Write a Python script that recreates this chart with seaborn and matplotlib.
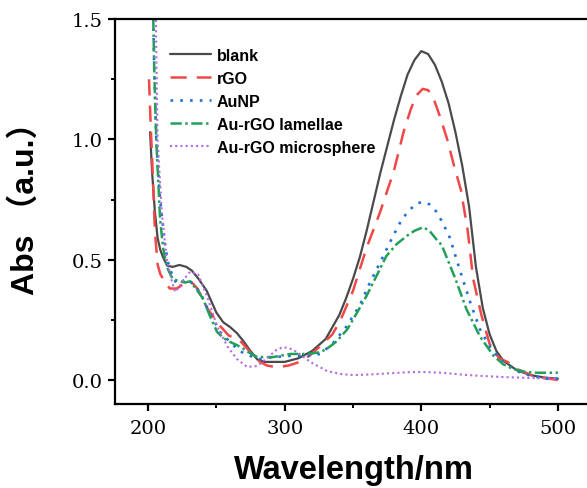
import matplotlib; matplotlib.use("Agg")
import matplotlib.pyplot as plt
import seaborn as sns

# ── data ────────────────────────────────────────────────────────────────────
blank_wl = [201.5, 203, 205, 207, 209, 211, 214, 218, 223, 228, 232, 237, 243, 250, 255, 260, 265, 270,
            275, 280, 285, 290, 300, 310, 320, 330, 340, 345, 350, 355, 360, 365, 370, 375, 380, 385,
            390, 395, 400, 405, 410, 415, 420, 425, 430, 435, 440, 445, 450, 455, 460, 470, 480, 490, 500]
blank_abs = [1.03, 0.86, 0.70, 0.59, 0.54, 0.51, 0.475, 0.47, 0.478, 0.47, 0.455, 0.42, 0.37, 0.28, 0.24,
             0.22, 0.195, 0.16, 0.12, 0.085, 0.075, 0.075, 0.075, 0.09, 0.12, 0.17, 0.27, 0.34, 0.42, 0.51,
             0.62, 0.74, 0.86, 0.97, 1.08, 1.18, 1.27, 1.33, 1.367, 1.355, 1.31, 1.24, 1.15, 1.03, 0.89,
             0.72, 0.47, 0.30, 0.19, 0.12, 0.08, 0.04, 0.02, 0.01, 0.005]

rgo_wl = [200.7, 202, 203, 205, 207, 209, 211, 213, 216, 221, 225, 229, 233, 236, 240, 243, 247, 251, 255,
          259, 263, 267, 271, 275, 279, 282, 287, 292, 297, 303, 311, 318, 326, 335, 341, 350, 360, 370,
          380, 387, 392, 396, 401, 405, 409, 414, 419, 424, 429, 434, 438, 444, 450, 457, 463, 470, 482,
          490, 500]
rgo_abs = [1.25, 1.05, 0.92, 0.62, 0.48, 0.44, 0.42, 0.40, 0.38, 0.38, 0.395, 0.41, 0.40, 0.38, 0.34, 0.30,
           0.27, 0.235, 0.21, 0.185, 0.175, 0.165, 0.14, 0.115, 0.09, 0.075, 0.06, 0.055, 0.055, 0.06,
           0.075, 0.10, 0.14, 0.19, 0.25, 0.37, 0.55, 0.70, 0.87, 1.03, 1.12, 1.18, 1.21, 1.205, 1.17,
           1.09, 1.0, 0.89, 0.79, 0.62, 0.42, 0.27, 0.15, 0.09, 0.075, 0.045, 0.017, 0.008, 0.0]

aunp_wl = [203.5, 204.5, 206, 208.8, 212.5, 214.6, 218, 221, 225, 228.6, 233, 238, 245, 252.7, 260, 267,
           274.7, 282, 291.6, 304, 316.5, 326, 335, 345, 355, 362, 370, 379.5, 386, 392, 397, 401.5, 406,
           411, 416, 421, 428.6, 436, 443, 450, 455.6, 461, 467, 475, 482, 492, 500]
aunp_abs = [1.6, 1.3, 1.0, 0.75, 0.56, 0.49, 0.43, 0.40, 0.41, 0.42, 0.40, 0.365, 0.28, 0.20, 0.158, 0.12,
            0.10, 0.087, 0.095, 0.10, 0.10, 0.108, 0.15, 0.22, 0.31, 0.40, 0.49, 0.60, 0.67, 0.71, 0.735,
            0.74, 0.73, 0.70, 0.65, 0.59, 0.45, 0.32, 0.21, 0.14, 0.10, 0.07, 0.046, 0.025, 0.015, 0.005,
            0.005]

lam_wl = [203.5, 204.5, 206, 208.8, 211, 213.7, 218, 223, 227, 230.8, 235, 240, 245, 250.5, 255, 260, 265,
          269.6, 275, 280, 291.6, 304, 316.5, 326, 331, 338, 345.8, 353, 360, 367, 374.4, 382, 389.7, 395,
          401.5, 406, 411, 415, 420, 425, 433, 443, 453, 460, 467, 475, 482, 490, 500]
lam_abs = [1.6, 1.3, 1.0, 0.67, 0.55, 0.47, 0.42, 0.41, 0.405, 0.41, 0.38, 0.34, 0.27, 0.20, 0.175, 0.158,
           0.145, 0.13, 0.11, 0.095, 0.095, 0.108, 0.108, 0.115, 0.13, 0.16, 0.21, 0.28, 0.35, 0.43, 0.515,
           0.565, 0.60, 0.62, 0.635, 0.62, 0.585, 0.56, 0.49, 0.42, 0.295, 0.18, 0.10, 0.065, 0.046, 0.035,
           0.03, 0.03, 0.03]

sph_wl = [205.5, 206.2, 207, 210, 213.7, 217, 219.8, 223, 226.5, 230.8, 236.6, 243, 250.5, 258, 265, 272.5,
          280, 289, 294, 299, 304, 309, 318.7, 331, 340.6, 350, 360, 375, 390, 401.5, 415, 430, 443, 460,
          480, 500]
sph_abs = [1.6, 1.3, 1.0, 0.70, 0.50, 0.42, 0.365, 0.39, 0.42, 0.45, 0.44, 0.35, 0.225, 0.14, 0.087, 0.054,
           0.058, 0.10, 0.125, 0.137, 0.13, 0.116, 0.075, 0.037, 0.025, 0.02, 0.022, 0.027, 0.032, 0.033,
           0.03, 0.022, 0.017, 0.012, 0.008, 0.005]

# ── style ───────────────────────────────────────────────────────────────────
sns.set_style("ticks")
plt.rcParams.update({"axes.linewidth": 1.6, "axes.edgecolor": "black", "axes.labelcolor": "black",
                     "text.color": "black", "xtick.color": "black", "ytick.color": "black",
                     "xtick.major.width": 1.6, "ytick.major.width": 1.6,
                     "xtick.minor.width": 1.4, "ytick.minor.width": 1.4,
                     "xtick.major.size": 5, "ytick.major.size": 5,
                     "xtick.minor.size": 3, "ytick.minor.size": 3,
                     "xtick.major.pad": 6, "ytick.major.pad": 4,
                     "xtick.direction": "out", "ytick.direction": "out"})

fig = plt.figure(figsize=(5.87, 4.89), dpi=100)
ax = fig.add_axes([0.196, 0.1718, 0.8126, 0.787])

series = [
    (blank_wl, blank_abs, "blank", "#4a4a4a", "-", 1.6),
    (rgo_wl, rgo_abs, "rGO", "#f04848", (0, (6.5, 4)), 1.8),
    (aunp_wl, aunp_abs, "AuNP", "#1f6fdc", (0, (1, 2.7)), 1.9),
    (lam_wl, lam_abs, "Au-rGO lamellae", "#22a05a", (0, (4.5, 1.4, 1, 1.4)), 1.8),
    (sph_wl, sph_abs, "Au-rGO microsphere", "#b36ae2", (0, (1, 1.5)), 1.5),
]
for wl, ab, name, col, ls, lw in series:
    sns.lineplot(x=wl, y=ab, ax=ax, color=col, linestyle=ls, linewidth=lw, label=name)

ax.set_xlim(175.85, 525)
ax.set_ylim(-0.1, 1.5)
ax.set_xticks([200, 300, 400, 500])
ax.set_xticks([250, 350, 450], minor=True)
ax.set_yticks([0.0, 0.5, 1.0, 1.5])
ax.set_yticks([0.25, 0.75, 1.25], minor=True)
ax.set_yticklabels(["0.0", "0.5", "1.0", "1.5"])
for lab in ax.get_xticklabels() + ax.get_yticklabels():
    lab.set_family("DejaVu Serif")
    lab.set_fontsize(14)

ax.set_xlabel("Wavelength/nm", fontsize=23.5, fontweight="bold", family=["Liberation Sans", "DejaVu Sans"])
ax.set_ylabel("Abs （a.u.）", fontsize=23, fontweight="bold",
              family=["Liberation Sans", "Noto Sans CJK SC", "DejaVu Sans"])
ax.xaxis.set_label_coords(0.5, -0.13)
ax.yaxis.set_label_coords(-0.155, 0.53)

leg = ax.legend(loc="upper left", bbox_to_anchor=(0.115, 0.926), frameon=False, borderaxespad=0,
                borderpad=0, handlelength=2.6, handletextpad=0.35, labelspacing=0.5,
                prop={"family": "Liberation Sans", "weight": "bold", "size": 11.5})

fig.savefig("out.png", dpi=100)
